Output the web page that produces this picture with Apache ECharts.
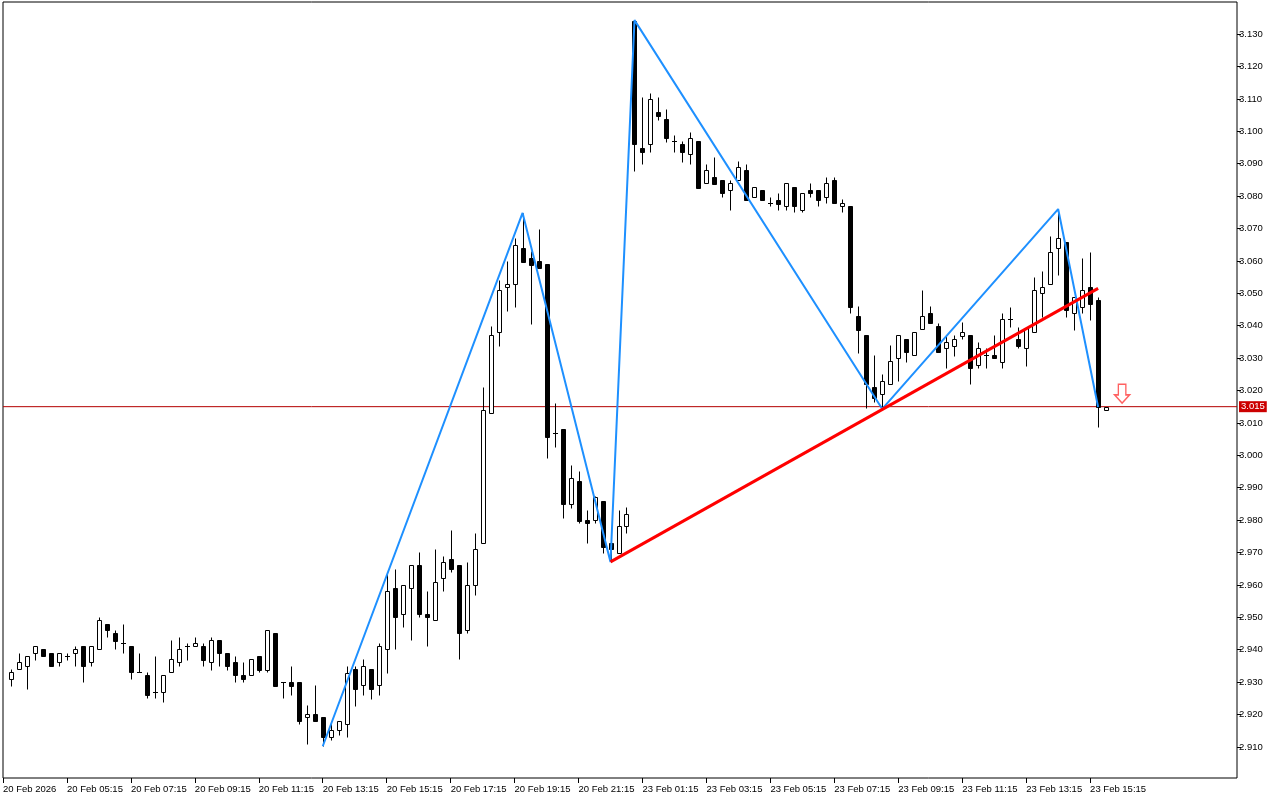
<!DOCTYPE html>
<html>
<head>
<meta charset="utf-8">
<script src="https://cdn.jsdelivr.net/npm/echarts@6/dist/echarts.min.js"></script>
<style>
html,body{margin:0;padding:0;background:#fff;}
#chart{width:1280px;height:800px;}
</style>
</head>
<body>
<div id="chart"></div>
<script>
// ---- data (15-minute candles, index 0 = first visible bar) ----
const opens = [
2.9310,2.9341,2.9350,2.9390,2.9402,2.9390,2.9362,2.9381,2.9390,2.9412,
2.9362,2.9402,2.9480,2.9452,2.9421,2.9412,2.9331,2.9322,2.9270,2.9270,
2.9331,2.9362,2.9412,2.9412,2.9412,2.9362,2.9430,2.9390,2.9362,2.9322,
2.9322,2.9381,2.9338,2.9452,2.9301,2.9301,2.9301,2.9193,2.9202,2.9193,
2.9131,2.9152,2.9171,2.9341,2.9291,2.9341,2.9291,2.9402,2.9591,2.9510,
2.9591,2.9662,2.9510,2.9492,2.9622,2.9680,2.9662,2.9461,2.9600,2.9730,
3.0131,3.0381,3.0520,3.0529,3.0640,3.0609,3.0600,3.0591,3.0069,3.0081,
2.9850,2.9921,2.9800,2.9800,2.9859,2.9730,2.9699,2.9782,3.1340,3.0948,
3.0961,3.1059,3.1038,3.0970,3.0961,3.0930,3.0970,3.0840,3.0859,3.0850,
3.0819,3.0850,3.0880,3.0797,3.0819,3.0779,3.0788,3.0769,3.0828,3.0757,
3.0819,3.0819,3.0797,3.0850,3.0769,3.0769,3.0430,3.0371,3.0211,3.0189,
3.0220,3.0300,3.0359,3.0310,3.0390,3.0439,3.0399,3.0331,3.0337,3.0368,
3.0371,3.0279,3.0310,3.0310,3.0288,3.0421,3.0359,3.0331,3.0381,3.0500,
3.0529,3.0640,3.0658,3.0439,3.0458,3.0519,3.0479,3.0140];
const highs = [
2.9341,2.9390,2.9381,2.9412,2.9402,2.9390,2.9390,2.9390,2.9412,2.9412,
2.9412,2.9501,2.9480,2.9461,2.9480,2.9412,2.9390,2.9331,2.9381,2.9322,
2.9430,2.9439,2.9421,2.9439,2.9421,2.9439,2.9430,2.9390,2.9381,2.9362,
2.9372,2.9381,2.9461,2.9452,2.9301,2.9350,2.9301,2.9230,2.9291,2.9193,
2.9180,2.9180,2.9350,2.9350,2.9372,2.9341,2.9421,2.9640,2.9649,2.9600,
2.9662,2.9702,2.9581,2.9711,2.9689,2.9770,2.9662,2.9671,2.9760,3.0211,
3.0399,3.0541,3.0600,3.0671,3.0748,3.0631,3.0699,3.0591,3.0162,3.0081,
2.9970,2.9952,2.9831,2.9875,2.9859,2.9760,2.9831,2.9841,3.1343,3.1106,
3.1118,3.1106,3.1069,3.0988,3.0970,3.0998,3.0970,3.0899,3.0921,3.0850,
3.0850,3.0908,3.0899,3.0828,3.0819,3.0797,3.0809,3.0840,3.0828,3.0809,
3.0840,3.0819,3.0859,3.0859,3.0791,3.0769,3.0461,3.0371,3.0310,3.0251,
3.0340,3.0371,3.0359,3.0381,3.0510,3.0461,3.0408,3.0371,3.0371,3.0411,
3.0371,3.0350,3.0331,3.0371,3.0439,3.0458,3.0396,3.0393,3.0550,3.0569,
3.0677,3.0760,3.0658,3.0488,3.0609,3.0627,3.0488,3.0150];
const lows = [
2.9288,2.9341,2.9279,2.9368,2.9381,2.9350,2.9350,2.9368,2.9350,2.9301,
2.9350,2.9402,2.9439,2.9402,2.9390,2.9310,2.9331,2.9251,2.9251,2.9239,
2.9331,2.9350,2.9368,2.9412,2.9350,2.9338,2.9350,2.9338,2.9301,2.9301,
2.9322,2.9331,2.9331,2.9288,2.9251,2.9260,2.9171,2.9109,2.9180,2.9102,
2.9122,2.9137,2.9131,2.9227,2.9260,2.9248,2.9260,2.9328,2.9402,2.9470,
2.9430,2.9501,2.9412,2.9492,2.9581,2.9640,2.9372,2.9452,2.9569,2.9730,
3.0131,3.0337,3.0445,3.0458,3.0597,3.0405,3.0578,2.9992,3.0026,2.9807,
2.9838,2.9791,2.9730,2.9791,2.9699,2.9671,2.9699,2.9760,3.0877,3.0899,
3.0936,3.1035,3.0967,3.0936,3.0905,3.0899,3.0825,3.0840,3.0837,3.0797,
3.0757,3.0850,3.0788,3.0797,3.0788,3.0769,3.0757,3.0757,3.0751,3.0751,
3.0797,3.0769,3.0779,3.0779,3.0751,3.0439,3.0316,3.0146,3.0164,3.0143,
3.0220,3.0229,3.0288,3.0310,3.0390,3.0408,3.0319,3.0269,3.0306,3.0359,
3.0220,3.0269,3.0269,3.0300,3.0269,3.0396,3.0331,3.0276,3.0381,3.0427,
3.0529,3.0556,3.0427,3.0387,3.0439,3.0418,3.0087,3.0140];
const closes = [
2.9331,2.9362,2.9381,2.9412,2.9381,2.9350,2.9390,2.9381,2.9402,2.9350,
2.9412,2.9492,2.9461,2.9427,2.9421,2.9331,2.9331,2.9260,2.9270,2.9322,
2.9372,2.9402,2.9412,2.9421,2.9368,2.9430,2.9390,2.9350,2.9322,2.9310,
2.9372,2.9338,2.9461,2.9288,2.9301,2.9288,2.9180,2.9202,2.9180,2.9131,
2.9152,2.9180,2.9328,2.9279,2.9350,2.9279,2.9412,2.9581,2.9501,2.9600,
2.9662,2.9510,2.9501,2.9609,2.9671,2.9649,2.9452,2.9600,2.9711,3.0140,
3.0371,3.0510,3.0529,3.0649,3.0597,3.0587,3.0578,3.0057,3.0069,2.9850,
2.9930,2.9797,2.9791,2.9872,2.9717,2.9711,2.9782,2.9819,3.0961,3.0936,
3.1100,3.1047,3.0979,3.0970,3.0936,3.0979,3.0825,3.0880,3.0837,3.0809,
3.0840,3.0890,3.0788,3.0828,3.0788,3.0779,3.0775,3.0840,3.0769,3.0809,
3.0809,3.0788,3.0840,3.0779,3.0779,3.0458,3.0387,3.0220,3.0177,3.0229,
3.0291,3.0371,3.0319,3.0381,3.0430,3.0408,3.0319,3.0350,3.0359,3.0381,
3.0269,3.0331,3.0310,3.0300,3.0421,3.0421,3.0337,3.0393,3.0510,3.0519,
3.0627,3.0671,3.0448,3.0488,3.0510,3.0467,3.0149,3.0150];

const tickIndex  = [-1,7,15,23,31,39,47,55,63,71,79,87,95,103,111,119,127,135];
const tickLabels = ['20 Feb 2026','20 Feb 05:15','20 Feb 07:15','20 Feb 09:15','20 Feb 11:15',
  '20 Feb 13:15','20 Feb 15:15','20 Feb 17:15','20 Feb 19:15','20 Feb 21:15',
  '23 Feb 01:15','23 Feb 03:15','23 Feb 05:15','23 Feb 07:15','23 Feb 09:15',
  '23 Feb 11:15','23 Feb 13:15','23 Feb 15:15'];
const priceTicks = [2.910,2.920,2.930,2.940,2.950,2.960,2.970,2.980,2.990,3.000,3.010,
  3.020,3.030,3.040,3.050,3.060,3.070,3.080,3.090,3.100,3.110,3.120,3.130];

const zigzagIndex = [39,64,75,78,109,131,136];
const zigzagPrice = [2.9102,3.0748,2.9671,3.1343,3.0143,3.0760,3.0149];
const trendIndex  = [75,136];
const trendPrice  = [2.9671,3.0515];
const bidPrice = 3.015;
const signalIndex = [139];
const signalPrice = [3.0190];

// ---- chart ----
const FONT = 'Liberation Sans';
const X_MIN = -1, X_MAX = 153.375;
const candleData = opens.map((o, i) => [i, o, closes[i], lows[i], highs[i]]);

function renderCandle(params, api) {
  const i = api.value(0), o = api.value(1), c = api.value(2), l = api.value(3), h = api.value(4);
  const pO = api.coord([i, o]), pC = api.coord([i, c]);
  const pL = api.coord([i, l]), pH = api.coord([i, h]);
  const cx = Math.round(pO[0]) + 0.5;
  const top = Math.round(Math.min(pO[1], pC[1])) + 0.5;
  const bot = Math.round(Math.max(pO[1], pC[1])) + 0.5;
  const yh = Math.round(pH[1]) + 0.5, yl = Math.round(pL[1]) + 0.5;
  const bull = c >= o;
  const children = [{
    type: 'line',
    shape: { x1: cx, y1: yh, x2: cx, y2: yl },
    style: { stroke: '#000', lineWidth: 1 }
  }];
  if (bot - top < 1) {
    children.push({
      type: 'line',
      shape: { x1: cx - 2.5, y1: top, x2: cx + 2.5, y2: top },
      style: { stroke: '#000', lineWidth: 1 }
    });
  } else {
    children.push({
      type: 'rect',
      shape: { x: cx - 2, y: top, width: 4, height: bot - top },
      style: { fill: bull ? '#fff' : '#000', stroke: '#000', lineWidth: 1 }
    });
  }
  return { type: 'group', children };
}

const chart = echarts.init(document.getElementById('chart'), null, { renderer: 'canvas' });
chart.setOption({
  animation: false,
  backgroundColor: '#fff',
  grid: { left: 2, right: 43, top: 2, bottom: 22, show: true, borderColor: '#000', borderWidth: 1, backgroundColor: '#fff' },
  xAxis: {
    type: 'value', min: X_MIN, max: X_MAX,
    axisLine: { show: false, onZero: false },
    splitLine: { show: false },
    axisTick: { show: true, customValues: tickIndex, length: 5, lineStyle: { color: '#000' } },
    axisLabel: {
      customValues: tickIndex,
      formatter: v => { const k = tickIndex.indexOf(Math.round(v)); return k >= 0 ? tickLabels[k] : ''; },
      align: 'left', color: '#000', fontSize: 9.5, fontFamily: FONT, margin: 6
    }
  },
  yAxis: {
    type: 'value', position: 'right', min: 2.9004, max: 3.1399,
    axisLine: { show: false, onZero: false },
    splitLine: { show: false },
    axisTick: { show: true, customValues: priceTicks, length: 4, lineStyle: { color: '#000' } },
    axisLabel: {
      customValues: priceTicks,
      formatter: v => v.toFixed(3),
      color: '#000', fontSize: 9.5, fontFamily: FONT, margin: 2
    }
  },
  series: [
    {
      type: 'line', name: 'bid', z: 1, silent: true,
      data: [[X_MIN, bidPrice], [X_MAX, bidPrice]],
      showSymbol: false, symbol: 'none',
      lineStyle: { color: '#b40000', width: 1 },
      endLabel: {
        show: true, formatter: bidPrice.toFixed(3), distance: 2,
        backgroundColor: '#cc0000', color: '#fff', fontSize: 9.5, fontFamily: FONT,
        padding: [1, 2, 0, 2]
      }
    },
    {
      type: 'custom', name: 'candles', data: candleData,
      encode: { x: 0, y: [1, 2, 3, 4] },
      renderItem: renderCandle, z: 2, silent: true
    },
    {
      type: 'line', name: 'zigzag', z: 4, silent: true,
      data: zigzagIndex.map((x, k) => [x, zigzagPrice[k]]),
      showSymbol: false, symbol: 'none',
      lineStyle: { color: '#1e90ff', width: 2 }
    },
    {
      type: 'line', name: 'trend', z: 5, silent: true,
      data: trendIndex.map((x, k) => [x, trendPrice[k]]),
      showSymbol: false, symbol: 'none',
      lineStyle: { color: '#ff0000', width: 3 }
    },
    {
      type: 'scatter', name: 'signal', z: 6, silent: true,
      data: signalIndex.map((x, k) => [x, signalPrice[k]]),
      symbol: 'path://M3,0 L9,0 L9,10 L12,10 L6,18 L0,10 L3,10 Z',
      symbolSize: [15, 19],
      itemStyle: { color: '#fff', borderColor: '#ff3a3a', borderWidth: 1.5 }
    }
  ]
});
</script>
</body>
</html>
